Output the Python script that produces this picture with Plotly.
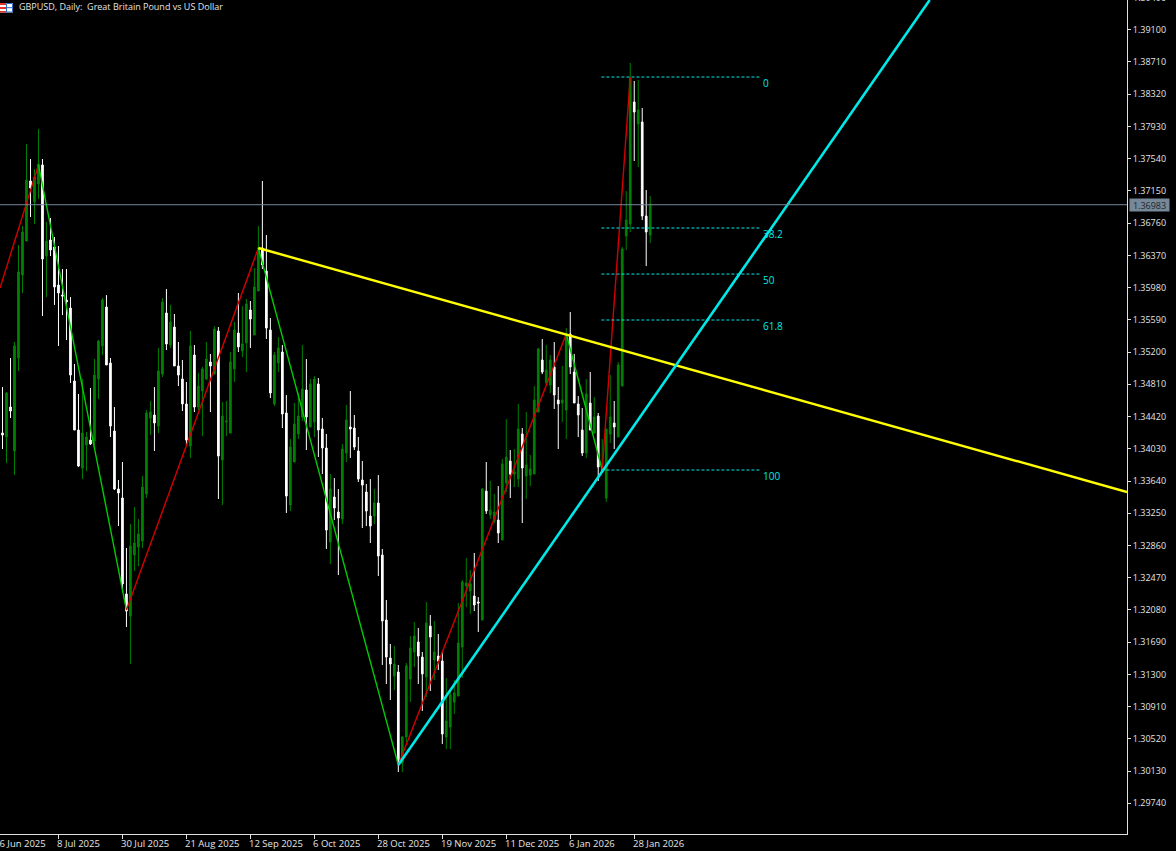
import plotly.graph_objects as go

SCALE = 100000.0

opens = [134221,134172,134535,134003,135128,136132,136544,137270,137016,137234,137464,136362,136556,136471,136011,135890,135830,135733,134850,134257,133797,134076,134136,134124,134874,135274,135745,135068,134245,133543,133434,132273,132006,132744,132841,132914,133483,134402,134439,134305,134934,135673,135286,135503,135032,134874,134572,134064,135164,134535,134729,134874,135080,134934,135455,133894,134354,134221,134996,135431,135213,135310,135709,135407,135939,136459,136181,135467,134572,135068,135201,134463,133350,133870,134209,134414,134741,134293,134354,134814,134269,134039,132902,133446,133265,133180,133979,134293,134281,134003,133652,133507,133216,133216,133374,132744,131958,131498,131281,131329,130228,130542,131244,131571,131692,131510,131268,131885,131474,131522,131462,130542,130663,130966,131038,131631,132370,132309,132248,132176,131958,133519,133229,133156,133168,132926,133616,133882,133724,133664,134209,133700,133712,133724,134475,135104,134826,134802,135020,134620,134584,134499,135419,134959,134572,134257,133979,134584,134221,134426,133761,133434,134209,134342,134172,134789,136604,136750,138226,137960,137984,136846,136617]
highs = [134777,134717,135128,135322,136495,136725,137718,137536,137415,137899,137536,136774,136822,136592,136483,136205,136205,135866,135056,134693,134874,134233,134765,135116,135346,135854,135890,135128,134535,133652,133870,132829,133120,133325,133180,133700,134499,134608,134777,135250,135854,135963,135770,135661,135322,135104,134838,135455,135286,134947,135020,135322,135177,135515,135503,134596,134608,135201,135564,135915,135757,135842,135818,136217,136725,137270,136617,135612,135201,135382,135286,134681,134148,134584,134705,135286,135116,134874,134910,134886,134402,134209,133724,133676,133543,134088,134560,134729,134439,134172,133882,133604,133664,133543,133712,132817,132200,131668,131644,131414,130554,131438,131764,131934,131861,131571,132176,132019,131946,131789,131571,131256,131111,131232,132164,132442,132708,132563,132769,132236,133555,133870,133640,133483,133579,133906,134390,134015,134027,134572,134281,134475,133955,134789,135250,135358,135286,135164,135322,134777,135032,135491,135685,135177,134668,134523,134874,134959,134656,134463,134148,134269,134922,134608,135080,136471,137149,138698,138480,138492,138153,137161,137088]
lows = [134027,133858,134402,133712,134971,135915,136544,136834,136750,137052,135636,135866,136362,135770,135274,135648,135346,134826,134257,133809,133664,133761,134076,134076,134632,135164,135044,134172,133531,133095,132297,131873,131426,132551,132611,132829,133434,134196,134003,134221,134898,135225,135250,135032,134789,134487,134076,133918,134475,134499,134184,134862,134475,134934,133422,133350,134184,134221,134838,135201,135140,134959,135250,135407,135939,136205,135358,134644,134548,134959,134281,133253,133277,133870,134148,134366,134015,134293,134172,133930,133724,132817,132636,133168,132502,133120,133870,133918,134015,133628,133071,133095,132890,133120,132490,131414,131184,130990,131111,130119,130119,130482,130966,131390,131184,130857,131026,131099,131232,131353,130458,130397,130397,130821,131038,131256,132115,132031,132067,131813,131958,133241,133180,133132,132890,132926,133507,133434,133567,133567,133132,133422,133579,133724,134475,134934,134802,134705,134511,134027,134354,134148,134934,134584,134172,133942,133918,134257,134221,133640,133749,133386,134100,134027,134172,134789,136435,136653,137512,137439,136798,136241,136520]
closes = [134196,134705,134487,135274,136169,136653,137282,137185,137318,137476,136326,136544,136435,135987,135915,135878,135806,134922,134257,133821,134221,134172,134088,134922,135334,135830,135044,134305,133543,133495,132394,132067,132853,132890,132999,133567,134463,134475,134342,134971,135806,135298,135564,135032,134922,134572,134136,135274,134535,134789,134996,135116,135032,135479,133942,134426,134366,135080,135467,135262,135298,135782,135600,135987,136459,136254,135491,134705,135164,135250,134451,133458,134051,134330,134426,134753,134414,134814,134874,134257,134039,133047,133543,133313,133192,134027,134378,134269,134051,133664,133591,133277,133095,133374,132732,131946,131510,131426,131426,130228,130542,131402,131619,131764,131522,131305,131922,131752,131571,131462,130579,130736,131050,131075,131680,132418,132406,132394,132140,132164,133543,133277,133289,133265,133011,133846,133930,133724,133749,134269,133797,133833,133785,134620,135238,134959,134983,135104,134681,134572,134620,135419,135020,134584,134439,133979,134693,134257,134414,133809,133797,134269,134414,134293,135044,136447,136798,138516,138105,138129,136846,136653,136992]

zigzag_bars = [-0.625, 9, 31, 64, 99, 141, 150, 157]
zigzag_prices = [135975, 137464, 132079, 136459, 130204, 135419, 133773, 138528]

fib_labels = ["0", "38.2", "50", "61.8", "100"]
fib_prices = [138528, 136701, 136144, 135588, 133773]
fib_bars = [149.8, 189.8]

yellow_bars = [64, 281.25]
yellow_prices = [136459, 133507]
cyan_bars = [99, 231.9]
cyan_prices = [130204, 139460]

last_price = 1.36983
price_ticks = [1.391 - 0.0039 * n for n in range(25)]
date_ticks = [-2, 14, 30, 46, 62, 78, 94, 110, 126, 142, 158]
date_labels = ["16 Jun 2025", "8 Jul 2025", "30 Jul 2025", "21 Aug 2025", "12 Sep 2025", "6 Oct 2025",
               "28 Oct 2025", "19 Nov 2025", "11 Dec 2025", "6 Jan 2026", "28 Jan 2026"]

X0, X1 = -0.625, 281.25
Y0, Y1 = 1.29369, 1.39460
PLOT_W, PLOT_H = 1127.5, 834.0
FONT = "Open Sans"
TEXT = "#e4e4e4"
AQUA = "#00e8e8"


def px(x):
    return x / PLOT_W


def py(y):
    return 1 - y / PLOT_H


bars = list(range(len(opens)))
fig = go.Figure()
fig.add_trace(go.Candlestick(
    x=bars,
    open=[v / SCALE for v in opens], high=[v / SCALE for v in highs],
    low=[v / SCALE for v in lows], close=[v / SCALE for v in closes],
    increasing=dict(line=dict(color="#008000", width=1), fillcolor="#008000"),
    decreasing=dict(line=dict(color="#ffffff", width=1), fillcolor="#ffffff"),
    whiskerwidth=0, showlegend=False, hoverinfo="skip",
))

for n in range(len(zigzag_bars) - 1):
    up = zigzag_prices[n + 1] > zigzag_prices[n]
    fig.add_trace(go.Scatter(
        x=zigzag_bars[n:n + 2], y=[v / SCALE for v in zigzag_prices[n:n + 2]], mode="lines",
        line=dict(color="#d40000" if up else "#00cc00", width=1.4), showlegend=False, hoverinfo="skip"))

for price in fib_prices:
    fig.add_trace(go.Scatter(
        x=fib_bars, y=[price / SCALE] * 2, mode="lines",
        line=dict(color=AQUA, width=1, dash="3px,2px"), showlegend=False, hoverinfo="skip"))

fig.add_trace(go.Scatter(x=yellow_bars, y=[v / SCALE for v in yellow_prices], mode="lines",
                         line=dict(color="#ffff00", width=2.4), showlegend=False, hoverinfo="skip"))
fig.add_trace(go.Scatter(x=cyan_bars, y=[v / SCALE for v in cyan_prices], mode="lines",
                         line=dict(color=AQUA, width=2.6), showlegend=False, hoverinfo="skip"))
fig.add_trace(go.Scatter(x=[X0, X1], y=[last_price] * 2, mode="lines",
                         line=dict(color="#778899", width=1), showlegend=False, hoverinfo="skip"))

annotations = []
for label, price in zip(fib_labels, fib_prices):
    annotations.append(dict(x=190.1, y=price / SCALE, xref="x", yref="y", text=label, showarrow=False,
                            xanchor="left", yanchor="middle", yshift=-6, xshift=-2,
                            font=dict(family=FONT, size=10, color=AQUA)))
for tick, label in zip(date_ticks, date_labels):
    annotations.append(dict(x=(tick - X0) / (X1 - X0), y=0, xref="paper", yref="paper", text=label, showarrow=False,
                            xanchor="left", yanchor="middle", yshift=-9, xshift=-1, borderpad=0, borderwidth=0,
                            font=dict(family=FONT, size=9.5, color=TEXT)))
annotations.append(dict(x=px(18), y=py(7), xref="paper", yref="paper", showarrow=False, xanchor="left", yanchor="middle",
                        text="GBPUSD, Daily:  Great Britain Pound vs US Dollar", borderpad=0,
                        font=dict(family=FONT, size=9, color=TEXT)))
annotations.append(dict(x=px(1130), y=py(204.5), xref="paper", yref="paper", showarrow=False, xanchor="left", yanchor="middle",
                        text=f"{last_price:.5f}", width=39, height=12, borderpad=0, bgcolor="#778899",
                        font=dict(family=FONT, size=9, color="#20262c")))
annotations.append(dict(x=px(1133), y=py(-2.5), xref="paper", yref="paper", showarrow=False, xanchor="left", yanchor="middle",
                        text="1.39490", borderpad=0, font=dict(family=FONT, size=9, color=TEXT)))

shapes = [
    dict(type="rect", xref="paper", yref="paper", x0=px(0), x1=px(13), y0=py(3), y1=py(12.5),
         fillcolor="#ffffff", line=dict(width=0), layer="above"),
    dict(type="rect", xref="paper", yref="paper", x0=px(0), x1=px(6), y0=py(3), y1=py(5),
         fillcolor="#e8352c", line=dict(width=0), layer="above"),
    dict(type="rect", xref="paper", yref="paper", x0=px(0), x1=px(6), y0=py(7), y1=py(9),
         fillcolor="#e8352c", line=dict(width=0), layer="above"),
    dict(type="rect", xref="paper", yref="paper", x0=px(0), x1=px(6), y0=py(11), y1=py(12.5),
         fillcolor="#e8352c", line=dict(width=0), layer="above"),
    dict(type="rect", xref="paper", yref="paper", x0=px(6.5), x1=px(12.5), y0=py(3.5), y1=py(12),
         fillcolor="rgba(0,0,0,0)", line=dict(width=1, color="#2a6fc0"), layer="above"),
    dict(type="line", xref="paper", yref="paper", x0=px(6.5), x1=px(12.5), y0=py(7.7), y1=py(7.7),
         line=dict(width=1, color="#2a6fc0"), layer="above"),
]

fig.update_layout(
    width=1176, height=851, autosize=False,
    margin=dict(l=0, r=48.5, t=0, b=17, pad=0),
    paper_bgcolor="#000000", plot_bgcolor="#000000",
    boxgap=0.4, showlegend=False, hovermode=False,
    annotations=annotations, shapes=shapes,
    xaxis=dict(type="linear", range=[X0, X1], rangeslider=dict(visible=False), showgrid=False, zeroline=False,
               tickmode="array", tickvals=date_ticks, ticktext=[""] * len(date_ticks), ticks="outside", ticklen=4,
               tickwidth=1, tickcolor="#e0e0e0", showline=True, linecolor="#e0e0e0", linewidth=1, showticklabels=False),
    yaxis=dict(type="linear", range=[Y0, Y1], side="right", showgrid=False, zeroline=False,
               tickmode="array", tickvals=price_ticks, ticktext=[f"{t:.5f}" for t in price_ticks], ticks="outside",
               ticklen=3, tickwidth=1, tickcolor="#e0e0e0", showline=True, linecolor="#e0e0e0", linewidth=1,
               tickfont=dict(family=FONT, size=9, color=TEXT), automargin=False),
)

fig.write_html("out.html", config={"displayModeBar": False},
               post_script="document.body.style.margin='0';document.body.style.background='#000';document.body.style.overflow='hidden';")
